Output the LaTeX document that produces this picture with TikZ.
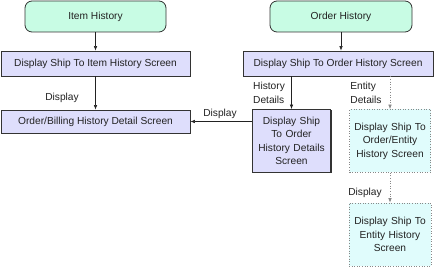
\documentclass[tikz,border=0pt]{standalone}
\usepackage{fontspec}
\setmainfont{Liberation Sans}
\usetikzlibrary{arrows.meta,shadows}
\definecolor{pcFFFFFF}{HTML}{FFFFFF}
\definecolor{pcC8FCE4}{HTML}{C8FCE4}
\definecolor{pcDEDEFC}{HTML}{DEDEFC}
\definecolor{pcE0FCFC}{HTML}{E0FCFC}
\definecolor{pc333333}{HTML}{333333}
\definecolor{pc222222}{HTML}{222222}
\definecolor{pc888888}{HTML}{888888}
\tikzset{
  txt/.style={inner sep=0, text=pc222222, font=\fontsize{10.2bp}{13.5bp}\selectfont},
  start/.style={txt, draw=pc333333, line width=0.8bp, fill=pcC8FCE4, rounded corners=7bp,
    minimum width=141bp, minimum height=31bp},
  screen/.style={txt, draw=pc333333, line width=0.8bp, fill=pcDEDEFC,
    drop shadow={shadow xshift=1bp, shadow yshift=-1bp, fill=pc333333, opacity=1}},
  optional/.style={txt, draw=pc888888, line width=0.6bp, dotted, fill=pcE0FCFC},
  flow/.style={draw=pc222222, line width=0.6bp, -{Latex[length=4.5bp,width=3.5bp]}},
  optflow/.style={flow, draw=pc888888, dotted},
  lbl/.style={txt, align=left},
}

\begin{document}
\begin{tikzpicture}
\path[use as bounding box] (0bp,0bp) rectangle (440bp,267bp);
\path[fill=pcFFFFFF] (0bp,0bp) rectangle (440bp,267bp);
% left column
\node[start] (itemhist) at (95.5bp,250.5bp) {Item History};
\node[screen, minimum width=189bp, minimum height=25bp] (itemscreen) at (95.5bp,203.5bp) {Display Ship To Item History Screen};
\node[screen, minimum width=189bp, minimum height=23bp] (billing) at (95.5bp,145.5bp) {Order/Billing History Detail Screen};
% right column
\node[start, minimum width=142bp] (orderhist) at (341bp,250.5bp) {Order History};
\node[screen, minimum width=190bp, minimum height=25bp] (orderscreen) at (338bp,203.5bp) {Display Ship To Order History Screen};
\node[screen, align=center, text width=78bp, minimum height=63bp] (details) at (291.5bp,126bp) {Display Ship\\To Order\\History Details\\Screen};
\node[optional, align=center, text width=81bp, minimum height=63bp] (entity) at (390bp,126bp) {Display Ship To\\Order/Entity\\History Screen};
\node[optional, align=center, text width=82bp, minimum height=63bp] (entityhist) at (390bp,32.5bp) {Display Ship To\\Entity History\\Screen};
% connectors
\draw[flow] (itemhist) -- (itemscreen);
\draw[flow] (itemscreen) -- (billing);
\draw[flow] (orderhist.south -| 341bp,0) -- (orderscreen.north -| 341bp,0);
\draw[flow] (orderscreen.south -| details) -- (details);
\draw[optflow] (orderscreen.south -| entity) -- (entity);
\draw[optflow] (entity) -- (entityhist);
\draw[flow] (details.west |- billing) -- (billing);
% labels
\node[lbl] (lbldisplay1) at (62bp,169bp) {Display};
\node[lbl] (lblhist) at (269bp,174bp) {History\\Details};
\node[lbl] (lblentity) at (366bp,174bp) {Entity\\Details};
\node[lbl] (lbldisplay2) at (365bp,74bp) {Display};
\node[lbl] (lbldisplay3) at (220bp,153bp) {Display};
\end{tikzpicture}
\end{document}
